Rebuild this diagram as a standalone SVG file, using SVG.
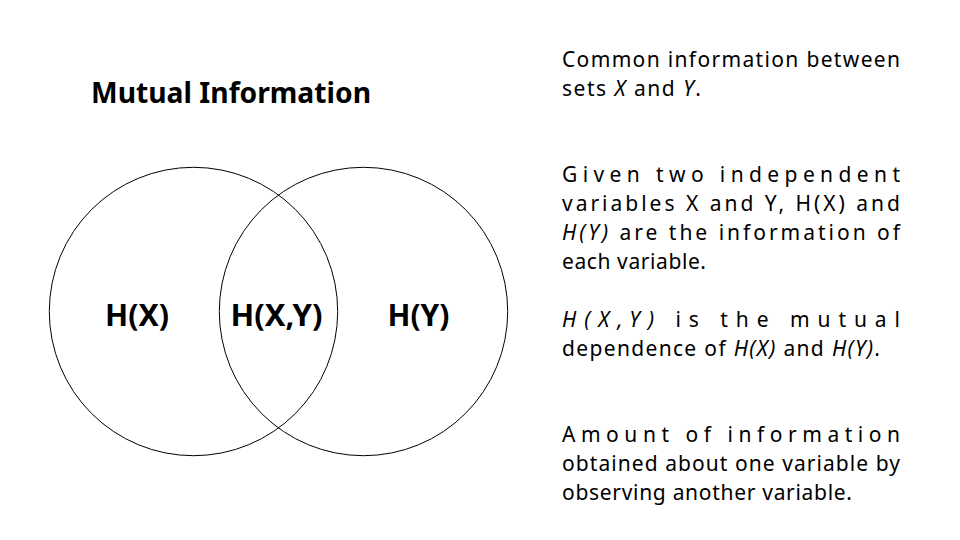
<svg xmlns="http://www.w3.org/2000/svg" width="960" height="540" viewBox="0 0 960 540">
  <style>
    .set { fill: none; stroke: #000; stroke-width: 1; }
    .title { font-family: "Noto Sans", "Liberation Sans", sans-serif; font-size: 28px; font-weight: bold; fill: #000; }
    .lbl { font-family: "Noto Sans", "Liberation Sans", sans-serif; font-size: 30px; font-weight: bold; fill: #000; }
    .body { font-family: "Noto Sans", "Liberation Sans", sans-serif; font-size: 21px; fill: #000; }
    .it { font-style: italic; }
  </style>
  <rect width="960" height="540" fill="#fff"/>

  <g id="title">
    <text class="title" x="91" y="103" textLength="280" lengthAdjust="spacingAndGlyphs">Mutual Information</text>
  </g>

  <g id="set-x">
    <circle class="set" cx="193.5" cy="311.5" r="144.2"/>
    <text class="lbl" x="105" y="326" textLength="64" lengthAdjust="spacingAndGlyphs">H(X)</text>
  </g>
  <g id="set-y">
    <circle class="set" cx="363.5" cy="311.5" r="144.2"/>
    <text class="lbl" x="387.5" y="326" textLength="62" lengthAdjust="spacingAndGlyphs">H(Y)</text>
  </g>
  <g id="intersection">
    <text class="lbl" x="230.5" y="326" textLength="92" lengthAdjust="spacingAndGlyphs">H(X,Y)</text>
  </g>

  <g id="notes">
    <text class="body" x="562" y="67" textLength="338" lengthAdjust="spacing">Common information between</text>
    <text class="body" x="562" y="96" textLength="139" lengthAdjust="spacing">sets <tspan class="it">X</tspan> and <tspan class="it">Y</tspan>.</text>

    <text class="body" x="562" y="182" textLength="338" lengthAdjust="spacing">Given two independent</text>
    <text class="body" x="562" y="211" textLength="338" lengthAdjust="spacing">variables X and Y, H(X) and</text>
    <text class="body" x="562" y="240" textLength="338" lengthAdjust="spacing"><tspan class="it">H(Y)</tspan> are the information of</text>
    <text class="body" x="562" y="269" textLength="144" lengthAdjust="spacing">each variable.</text>

    <text class="body it" x="562" y="327" textLength="338" lengthAdjust="spacing">H(X,Y)<tspan style="font-style:normal"> is the mutual</tspan></text>
    <text class="body" x="562" y="356" textLength="318" lengthAdjust="spacing">dependence of <tspan class="it">H(X)</tspan> and <tspan class="it">H(Y)</tspan>.</text>

    <text class="body" x="562" y="442" textLength="338" lengthAdjust="spacing">Amount of information</text>
    <text class="body" x="562" y="471" textLength="338" lengthAdjust="spacing">obtained about one variable by</text>
    <text class="body" x="562" y="500" textLength="290" lengthAdjust="spacing">observing another variable.</text>
  </g>
</svg>
